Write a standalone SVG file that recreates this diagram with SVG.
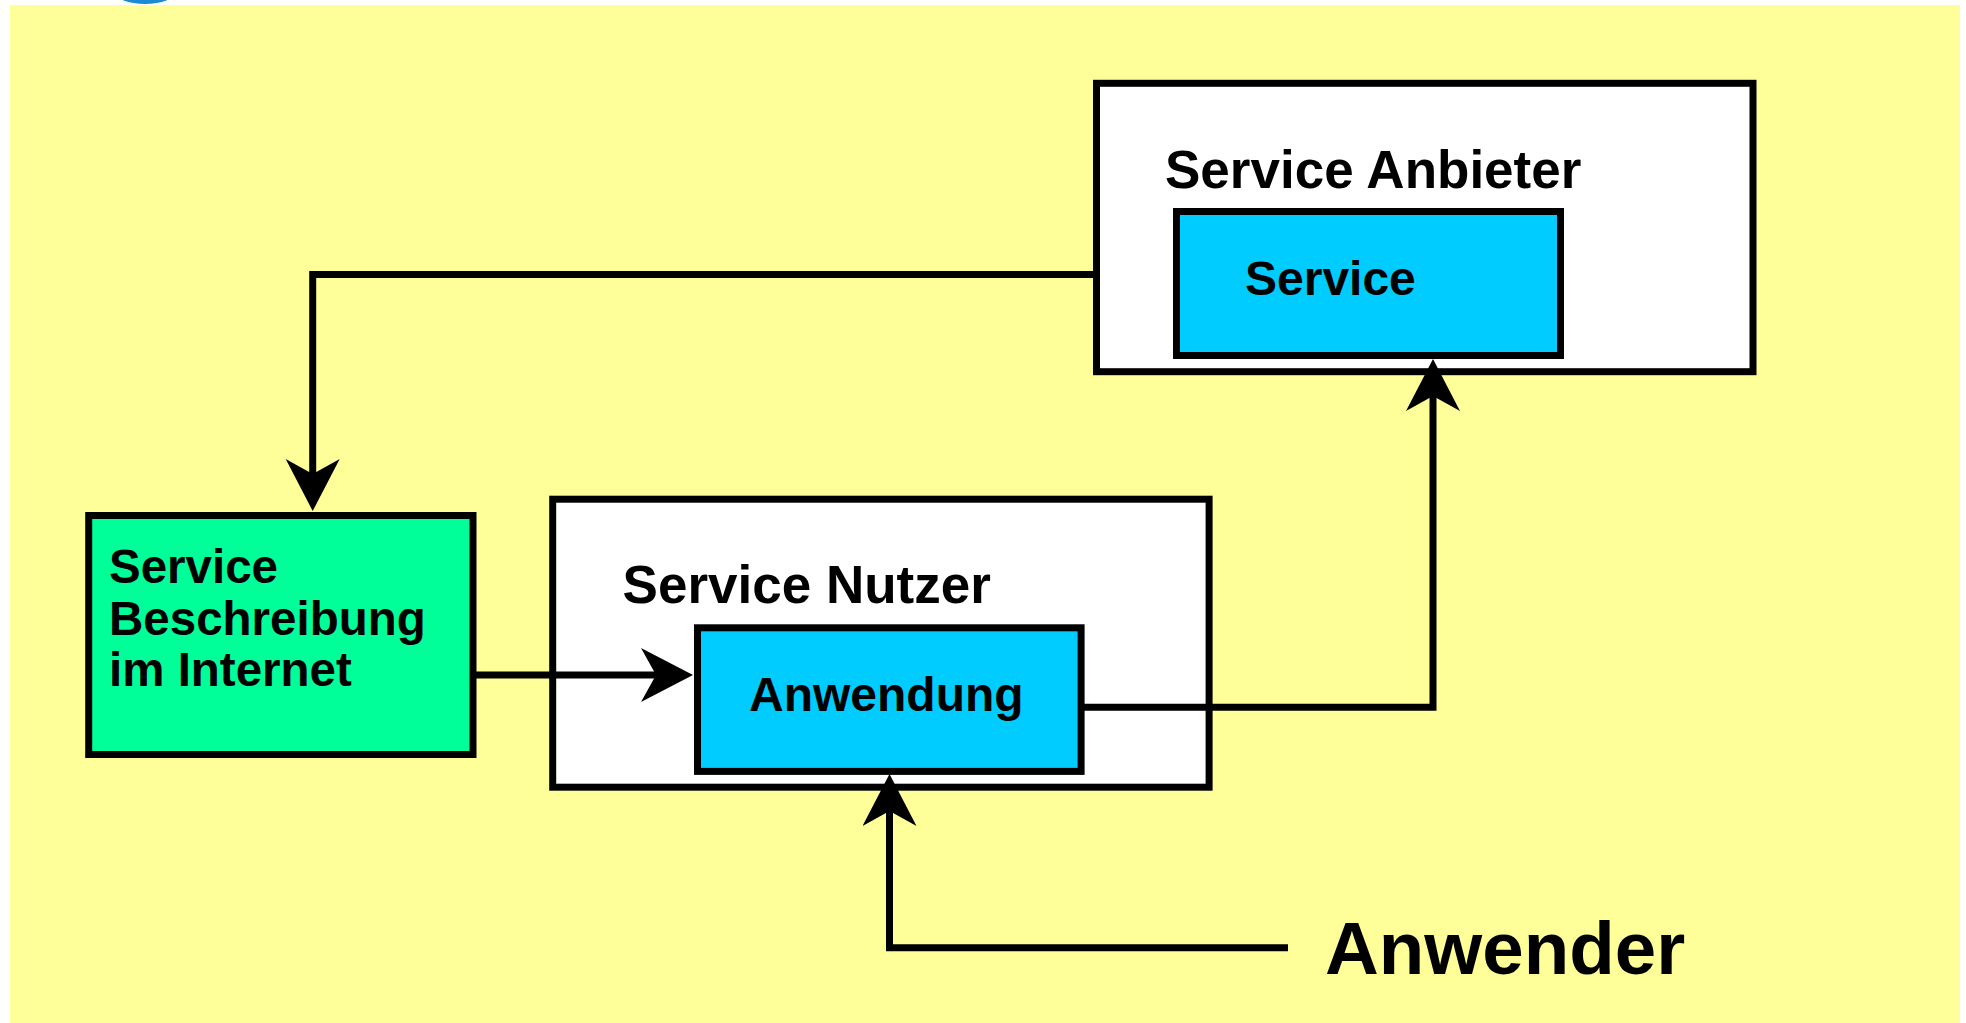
<svg xmlns="http://www.w3.org/2000/svg" width="1966" height="1023" viewBox="0 0 1966 1023">
<defs>
<style>
.box{stroke:#000;stroke-width:7;}
.outer{fill:#fff;}
.cyan{fill:#00CCFF;}
.green{fill:#00FF99;}
.lbl{font-family:"Liberation Sans",Arial,sans-serif;font-weight:bold;fill:#000;}
.con{fill:none;stroke:#000;stroke-width:7;stroke-linejoin:miter;}
</style>
<marker id="ah" markerUnits="userSpaceOnUse" markerWidth="54" markerHeight="56" refX="16" refY="27" orient="auto" viewBox="0 0 54 56">
<path d="M0,0 L52,27 L0,54 L15,27 z" fill="#000"/>
</marker>
</defs>
<rect x="0" y="0" width="1966" height="1023" fill="#fff"/>
<ellipse cx="145" cy="-8" rx="30" ry="12" fill="#1A8AD4"/>
<rect x="10" y="5" width="1950" height="1018" fill="#FFFF99"/>

<g id="service-anbieter">
<rect class="box outer" x="1096.5" y="83.3" width="656.5" height="288.4"/>
<text class="lbl" x="1165" y="188" font-size="53">Service Anbieter</text>
</g>
<g id="service">
<rect class="box cyan" x="1176.5" y="211.5" width="384" height="144"/>
<text class="lbl" x="1245" y="295" font-size="48">Service</text>
</g>
<g id="service-beschreibung">
<rect class="box green" x="88.7" y="515.5" width="384.3" height="239"/>
<text class="lbl" font-size="47.5"><tspan x="109" y="583">Service</tspan><tspan x="109" y="635">Beschreibung</tspan><tspan x="109" y="686">im Internet</tspan></text>
</g>
<g id="service-nutzer">
<rect class="box outer" x="552.7" y="499.2" width="656.4" height="288"/>
<text class="lbl" x="622.6" y="603.3" font-size="53">Service Nutzer</text>
</g>
<g id="anwendung">
<rect class="box cyan" x="697.5" y="627.8" width="383.6" height="143.6"/>
<text class="lbl" x="749" y="710.7" font-size="48">Anwendung</text>
</g>
<g id="anwender">
<text class="lbl" x="1325" y="974.3" font-size="74.5">Anwender</text>
</g>

<g id="connectors">
<path class="con" d="M1093,274.5 L312.7,274.5 L312.7,475" marker-end="url(#ah)"/>
<path class="con" d="M476,675 L657,675" marker-end="url(#ah)"/>
<path class="con" d="M1084,707.3 L1433,707.3 L1433,395" marker-end="url(#ah)"/>
<path class="con" d="M1288,947.7 L889.5,947.7 L889.5,810" marker-end="url(#ah)"/>
</g>
</svg>
